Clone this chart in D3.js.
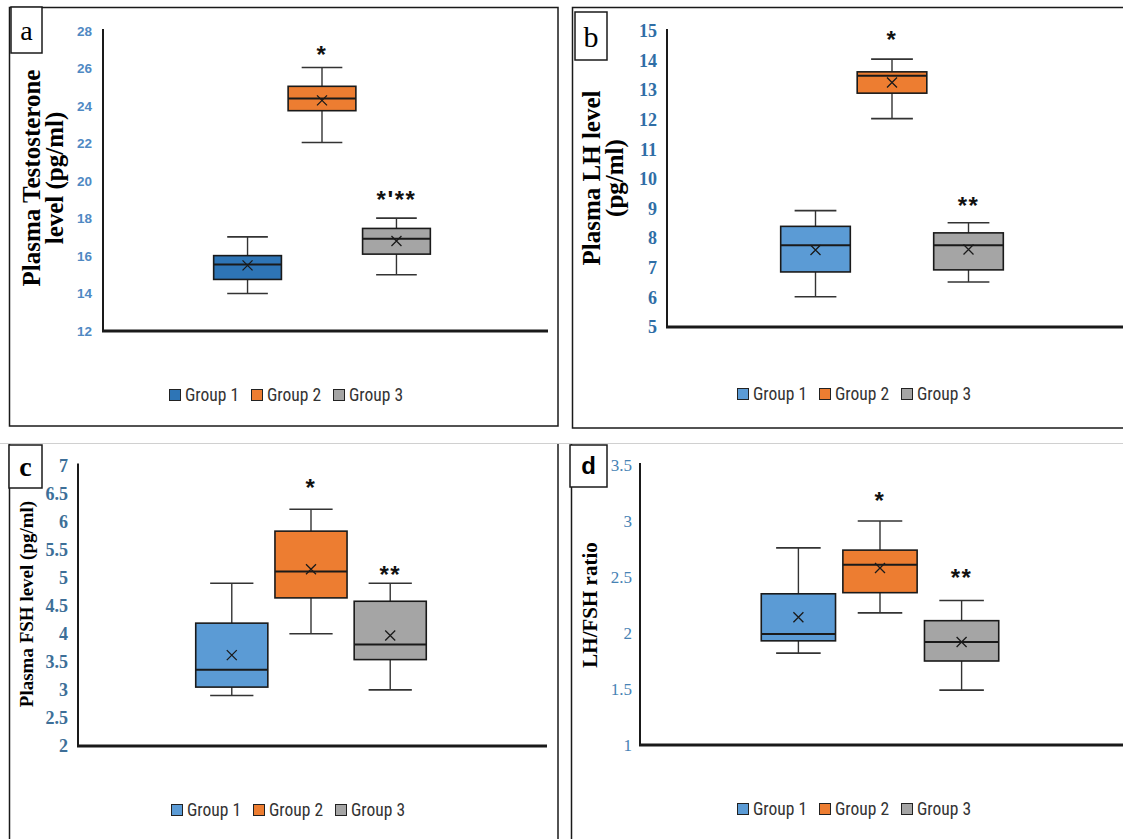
<!DOCTYPE html>
<html><head><meta charset="utf-8">
<script src="https://cdn.jsdelivr.net/npm/d3@7"></script>
<style>html,body{margin:0;padding:0;background:#fff;}</style>
</head><body>
<svg id="c" width="1123" height="839"></svg>
<script>
// ---------- DATA ----------
const groups = ["Group 1", "Group 2", "Group 3"];

// (a) Plasma testosterone (pg/ml)
const testoTicks  = [12, 14, 16, 18, 20, 22, 24, 26, 28];
const testoMin    = [14.0, 22.05, 15.0];
const testoQ1     = [14.75, 23.75, 16.1];
const testoMedian = [15.55, 24.4, 16.92];
const testoQ3     = [16.02, 25.05, 17.47];
const testoMax    = [17.02, 26.05, 18.02];
const testoMean   = [15.5, 24.3, 16.8];
const testoMarks  = ["", "*", "*'**"];
const testoMarkAt = [null, 27.0, 19.3];

// (b) Plasma LH (pg/ml)
const lhTicks  = [5, 6, 7, 8, 9, 10, 11, 12, 13, 14, 15];
const lhMin    = [6.02, 12.04, 6.52];
const lhQ1     = [6.86, 12.9, 6.93];
const lhMedian = [7.76, 13.49, 7.76];
const lhQ3     = [8.4, 13.62, 8.18];
const lhMax    = [8.93, 14.05, 8.52];
const lhMean   = [7.6, 13.26, 7.62];
const lhMarks  = ["", "*", "**"];
const lhMarkAt = [null, 14.9, 9.28];

// (c) Plasma FSH (pg/ml)
const fshTicks  = [2, 2.5, 3, 3.5, 4, 4.5, 5, 5.5, 6, 6.5, 7];
const fshMin    = [2.9, 4.0, 3.0];
const fshQ1     = [3.05, 4.64, 3.54];
const fshMedian = [3.36, 5.11, 3.81];
const fshQ3     = [4.19, 5.83, 4.58];
const fshMax    = [4.9, 6.22, 4.9];
const fshMean   = [3.62, 5.15, 3.97];
const fshMarks  = ["", "*", "**"];
const fshMarkAt = [null, 6.7, 5.15];

// (d) LH/FSH ratio
const ratioTicks  = [1, 1.5, 2, 2.5, 3, 3.5];
const ratioMin    = [1.82, 2.18, 1.49];
const ratioQ1     = [1.93, 2.36, 1.75];
const ratioMedian = [1.99, 2.61, 1.92];
const ratioQ3     = [2.35, 2.74, 2.11];
const ratioMax    = [2.76, 3.0, 2.29];
const ratioMean   = [2.14, 2.58, 1.92];
const ratioMarks  = ["", "*", "**"];
const ratioMarkAt = [null, 3.23, 2.54];

// ---------- DRAWING ----------
const svg = d3.select("#c");
const ink = "#1a1a1a";

// frames
svg.append("rect").attr("x", 9.5).attr("y", 7.5).attr("width", 548.5).attr("height", 418.5)
  .attr("fill", "none").attr("stroke", ink).attr("stroke-width", 1.5);
svg.append("rect").attr("x", 572.5).attr("y", 7.5).attr("width", 560).attr("height", 420.5)
  .attr("fill", "none").attr("stroke", ink).attr("stroke-width", 1.5);
svg.append("line").attr("x1", 0).attr("x2", 1123).attr("y1", 443.5).attr("y2", 443.5)
  .attr("stroke", "#d0d0d0").attr("stroke-width", 1);
[9.5, 558, 571.5].forEach(x => svg.append("line").attr("x1", x).attr("x2", x)
  .attr("y1", 444).attr("y2", 845).attr("stroke", ink).attr("stroke-width", 1.5));

function panel(p) {
  const g = svg.append("g");
  const y = d3.scaleLinear().domain([p.ticks[0], p.ticks[p.ticks.length - 1]]).range([p.bottom, p.top]);
  const x0 = d3.scaleBand().domain(["all"]).range([p.left, p.right]);
  const c = x0("all") + x0.bandwidth() / 2;
  const s = 0.17 * (p.right - p.left);
  const x1 = d3.scaleBand().domain(groups).range([c - 1.5 * s, c + 1.5 * s])
    .paddingInner(0.09).paddingOuter(0.045);
  const bw = x1.bandwidth();
  const cap = bw * 0.3;

  // tick labels
  const ax = g.append("g").attr("transform", `translate(${p.axisX},0)`)
    .call(d3.axisLeft(y).tickValues(p.ticks).tickSize(0).tickPadding(p.axisX - p.tickRight)
      .tickFormat(d => String(d)));
  ax.attr("font-family", p.tickFamily).attr("font-size", p.tickSize);
  ax.select(".domain").remove();
  ax.selectAll("text").attr("fill", p.tickColor).style("font-family", p.tickFamily)
    .style("font-size", p.tickSize + "px").style("font-weight", p.tickWeight);

  // axis lines
  g.append("line").attr("x1", p.axisX).attr("x2", p.axisX).attr("y1", y(p.ticks[p.ticks.length - 1]) - 2)
    .attr("y2", p.bottom).attr("stroke", ink).attr("stroke-width", 2);
  g.append("line").attr("x1", p.axisX - 1).attr("x2", p.axisEnd).attr("y1", p.bottom).attr("y2", p.bottom)
    .attr("stroke", ink).attr("stroke-width", 3);

  // boxes
  groups.forEach((grp, i) => {
    const cx = x1(grp) + bw / 2;
    const bx = g.append("g");
    bx.append("line").attr("x1", cx).attr("x2", cx).attr("y1", y(p.max[i])).attr("y2", y(p.q3[i]))
      .attr("stroke", "#333").attr("stroke-width", 1.4);
    bx.append("line").attr("x1", cx).attr("x2", cx).attr("y1", y(p.q1[i])).attr("y2", y(p.min[i]))
      .attr("stroke", "#333").attr("stroke-width", 1.4);
    [p.max[i], p.min[i]].forEach(v => bx.append("line").attr("x1", cx - cap).attr("x2", cx + cap)
      .attr("y1", y(v)).attr("y2", y(v)).attr("stroke", "#333").attr("stroke-width", 1.6));
    bx.append("rect").attr("x", x1(grp)).attr("y", y(p.q3[i])).attr("width", bw)
      .attr("height", y(p.q1[i]) - y(p.q3[i])).attr("fill", p.colors[i])
      .attr("stroke", ink).attr("stroke-width", 1.6);
    bx.append("line").attr("x1", x1(grp)).attr("x2", x1(grp) + bw).attr("y1", y(p.median[i]))
      .attr("y2", y(p.median[i])).attr("stroke", ink).attr("stroke-width", 2);
    const my = y(p.mean[i]), r = 5;
    bx.append("path").attr("d", `M${cx - r},${my - r}L${cx + r},${my + r}M${cx - r},${my + r}L${cx + r},${my - r}`)
      .attr("stroke", ink).attr("stroke-width", 1.3).attr("fill", "none");
    if (p.marks[i]) {
      g.append("text").attr("x", cx).attr("y", y(p.markAt[i]) + 0.57 * 24)
        .attr("text-anchor", "middle").style("font-family", "'Liberation Sans', Arial, sans-serif")
        .style("font-weight", "bold").style("font-size", "24px").style("letter-spacing", "1.5px")
        .attr("fill", "#111").text(p.marks[i]);
    }
  });

  // y title
  p.title.forEach((t, k) => {
    g.append("text").attr("transform", `translate(${p.titleX[k]},${p.titleY}) rotate(-90)`)
      .attr("text-anchor", "middle").style("font-family", "'Liberation Serif', 'Times New Roman', serif")
      .style("font-weight", "bold").style("font-size", p.titleSize + "px").attr("fill", "#000").text(t);
  });

  // letter box
  const L = p.letter;
  g.append("rect").attr("x", L.x).attr("y", L.y).attr("width", L.w).attr("height", L.h)
    .attr("fill", "#fff").attr("stroke", ink).attr("stroke-width", 1.5);
  g.append("text").attr("x", L.x + L.w / 2).attr("y", L.y + L.h / 2).attr("dy", "0.35em")
    .attr("text-anchor", "middle").style("font-family", L.family).style("font-weight", L.weight)
    .style("font-size", L.size + "px").attr("fill", "#000").text(L.t);

  // legend
  const lg = g.append("g").attr("transform", `translate(${p.legendX},${p.legendY})`);
  groups.forEach((grp, i) => {
    const it = lg.append("g").attr("transform", `translate(${i * 82},0)`);
    it.append("rect").attr("x", 0.5).attr("y", -5.5).attr("width", 11).attr("height", 11)
      .attr("fill", p.colors[i]).attr("stroke", "#222").attr("stroke-width", 1);
    it.append("text").attr("x", 16).attr("y", 0).attr("dy", "0.36em")
      .style("font-family", "'Liberation Sans Narrow', 'Arial Narrow', 'Roboto Condensed', 'DejaVu Sans Condensed', sans-serif")
      .style("font-size", "17.5px").attr("fill", "#333").text(grp);
  });
}

const blueA = "#2e75b6", blue = "#5b9bd5", orange = "#ed7d31", gray = "#a5a5a5";

panel({
  ticks: testoTicks, min: testoMin, q1: testoQ1, median: testoMedian, q3: testoQ3, max: testoMax,
  mean: testoMean, marks: testoMarks, markAt: testoMarkAt,
  top: 31, bottom: 331, left: 103, right: 541, axisX: 103, axisEnd: 548, tickRight: 92,
  tickColor: "#4f89c3", tickFamily: "'Liberation Sans', Arial, sans-serif", tickSize: 13.5, tickWeight: "bold",
  colors: [blueA, orange, gray],
  title: ["Plasma Testosterone", "level (pg/ml)"], titleX: [40, 63], titleY: 178, titleSize: 25,
  letter: { x: 11, y: 7, w: 31, h: 46, t: "a", family: "'Liberation Serif', serif", weight: "normal", size: 28 },
  legendX: 169, legendY: 395
});

panel({
  ticks: lhTicks, min: lhMin, q1: lhQ1, median: lhMedian, q3: lhQ3, max: lhMax,
  mean: lhMean, marks: lhMarks, markAt: lhMarkAt,
  top: 31, bottom: 327, left: 667, right: 1117, axisX: 667, axisEnd: 1123, tickRight: 657,
  tickColor: "#2f6ea6", tickFamily: "'Liberation Serif', 'Times New Roman', serif", tickSize: 18, tickWeight: "bold",
  colors: [blue, orange, gray],
  title: ["Plasma LH level", "(pg/ml)"], titleX: [600, 623], titleY: 178, titleSize: 25,
  letter: { x: 575, y: 12, w: 32, h: 48, t: "b", family: "'Liberation Serif', serif", weight: "normal", size: 30 },
  legendX: 737, legendY: 394
});

panel({
  ticks: fshTicks, min: fshMin, q1: fshQ1, median: fshMedian, q3: fshQ3, max: fshMax,
  mean: fshMean, marks: fshMarks, markAt: fshMarkAt,
  top: 465.5, bottom: 746, left: 78, right: 544, axisX: 78, axisEnd: 547, tickRight: 68,
  tickColor: "#3d6f98", tickFamily: "'Liberation Serif', 'Times New Roman', serif", tickSize: 18, tickWeight: "bold",
  colors: [blue, orange, gray],
  title: ["Plasma FSH level (pg/ml)"], titleX: [33], titleY: 604, titleSize: 19,
  letter: { x: 9, y: 445, w: 33, h: 43, t: "c", family: "'Liberation Serif', serif", weight: "bold", size: 28 },
  legendX: 171, legendY: 810
});

panel({
  ticks: ratioTicks, min: ratioMin, q1: ratioQ1, median: ratioMedian, q3: ratioQ3, max: ratioMax,
  mean: ratioMean, marks: ratioMarks, markAt: ratioMarkAt,
  top: 465, bottom: 745, left: 640, right: 1120, axisX: 640, axisEnd: 1123, tickRight: 632,
  tickColor: "#4682b4", tickFamily: "'Liberation Serif', 'Times New Roman', serif", tickSize: 17, tickWeight: "normal",
  colors: [blue, orange, gray],
  title: ["LH/FSH ratio"], titleX: [597], titleY: 605, titleSize: 21,
  letter: { x: 570, y: 445, w: 37, h: 42, t: "d", family: "'Liberation Sans', Arial, sans-serif", weight: "bold", size: 24 },
  legendX: 737, legendY: 809
});
</script>
</body></html>
